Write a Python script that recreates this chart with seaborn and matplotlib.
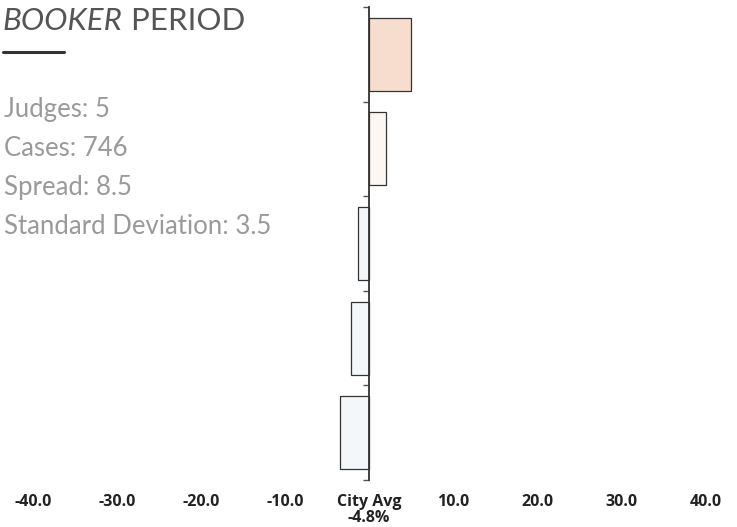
import numpy as np
import pandas as pd
import matplotlib
matplotlib.use('Agg')
import matplotlib.pyplot as plt
import seaborn as sns

# veri: hakim bazında şehir ortalamasından sapma (yüzde puan)
judges = ['Judge A', 'Judge B', 'Judge C', 'Judge D', 'Judge E']
deviation = [5.0, 2.0, -1.3, -2.2, -3.5]
bar_colors = ['#fddbc7', '#fff6f1', '#f2f7fa', '#f2f7fa', '#f2f7fa']

x_ticks = [-40, -30, -20, -10, 0, 10, 20, 30, 40]
x_labels = ['-40.0', '-30.0', '-20.0', '-10.0', 'City Avg\n-4.8%',
            '10.0', '20.0', '30.0', '40.0']

title_italic = 'BOOKER'
title_rest = ' PERIOD'
stats_lines = ['Judges: 5', 'Cases: 746', 'Spread: 8.5',
               'Standard Deviation: 3.5']

df = pd.DataFrame({'judge': judges, 'dev': deviation})

sns.set_style('white')
plt.rcParams['font.family'] = ['Lato', 'DejaVu Sans']

fig = plt.figure(figsize=(7.37, 5.27), dpi=100)
ax = fig.add_axes([0.0, 1 - 480 / 527, 1.0, (480 - 7) / 527])

sns.barplot(data=df, x='dev', y='judge', hue='judge', palette=bar_colors,
            legend=False, orient='h', width=0.77, edgecolor='#333333',
            linewidth=0.9, ax=ax)

ax.set_xlim(-43.9, 43.75)
ax.set_ylim(4.5, -0.5)

# sadece sol eksen çizgisi, veri 0 noktasında
for s in ['top', 'right', 'bottom']:
    ax.spines[s].set_visible(False)
ax.spines['left'].set_position(('data', 0))
ax.spines['left'].set_color('#333333')
ax.spines['left'].set_linewidth(1.3)

ax.set_yticks([])
ax.set_yticks(np.arange(-0.5, 5.0, 1.0), minor=True)
ax.tick_params(axis='y', which='minor', length=4, width=1.0,
               color='#555555', left=True)

ax.set_xticks(x_ticks)
ax.set_xticklabels(x_labels, fontsize=11.5, fontweight='bold', color='#222222',
                   family=['Open Sans', 'DejaVu Sans'])
ax.tick_params(axis='x', length=0, pad=10)
for lbl in ax.get_xticklabels():
    lbl.set_linespacing(1.05)
ax.set_xlabel('')
ax.set_ylabel('')

# başlık: italik kısım + normal kısım
t1 = fig.text(0.004, 1 - 29.5 / 527, title_italic, fontsize=22.5, style='italic',
              color='#555555', va='baseline', ha='left')
ax.annotate(title_rest, xy=(1, 0), xycoords=t1, fontsize=22.5, color='#555555',
            va='bottom', ha='left', annotation_clip=False)

# başlık altı çizgi
fig.add_artist(plt.Line2D([3 / 737, 64 / 737], [1 - 52 / 527, 1 - 52 / 527],
                          color='#333333', linewidth=2.2))

# istatistik satırları
y_pos = [117, 156, 195, 234]
for line, yp in zip(stats_lines, y_pos):
    fig.text(0.006, 1 - yp / 527, line, fontsize=18.5, color='#9a9a9a',
             va='baseline', ha='left')

plt.savefig('out.png', dpi=100)
